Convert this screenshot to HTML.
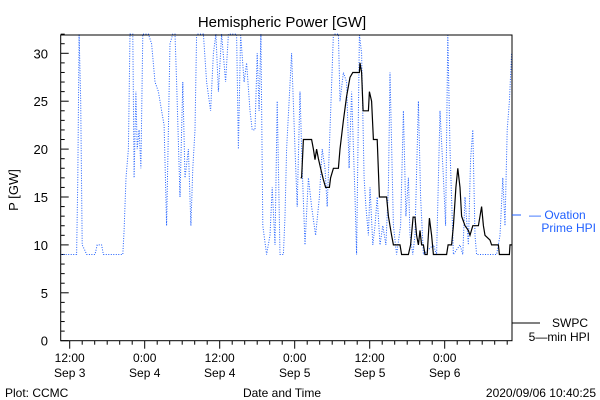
<!DOCTYPE html>
<html><head><meta charset="utf-8"><style>
body{margin:0;background:#fff;}
svg{display:block;font-family:"Liberation Sans",sans-serif;}
</style></head><body>
<svg id="chart" width="600" height="400" viewBox="0 0 600 400">
<text x="282" y="27" text-anchor="middle" font-size="15">Hemispheric Power [GW]</text>
<text transform="translate(18,190) rotate(-90)" text-anchor="middle" font-size="13">P [GW]</text>
<g id="axes"></g>
<g id="series"></g>
<rect x="60.7" y="35" width="451.3" height="305.7" fill="none" stroke="#000" stroke-width="1"/>
<line x1="512" y1="215" x2="521" y2="215" stroke="#2060ff" stroke-width="1"/>
<text x="529" y="219" font-size="12" fill="#2060ff">— Ovation</text>
<text x="596" y="232" text-anchor="end" font-size="12" fill="#2060ff">Prime HPI</text>
<line x1="512" y1="323" x2="540" y2="323" stroke="#000" stroke-width="1"/>
<text x="588" y="327" text-anchor="end" font-size="12">SWPC</text>
<text x="590" y="341" text-anchor="end" font-size="12">5—min HPI</text>
<text x="5" y="397" font-size="12">Plot: CCMC</text>
<text x="282" y="397" text-anchor="middle" font-size="12">Date and Time</text>
<text x="596" y="397" text-anchor="end" font-size="12">2020/09/06 10:40:25</text>
</svg>
<script>
const ovationHours=[10.56,13.1,13.3,13.5,13.76,14.0,14.45,14.7,16.05,16.4,17.1,17.4,20.5,20.7,21.0,21.4,21.65,22.1,22.3,22.6,22.8,23.1,23.4,23.7,24.6,25.1,25.65,26.2,26.7,27.1,27.5,28.05,28.5,28.85,29.1,29.65,30.1,30.45,31.0,31.4,31.7,32.05,32.3,33.4,33.9,34.55,35.0,35.4,35.8,36.3,36.95,37.4,38.7,39.0,39.35,39.9,40.3,40.85,41.2,41.65,42.0,42.3,42.6,42.9,43.5,44.05,44.4,44.85,45.2,45.65,46.2,46.45,46.7,47.5,48.05,48.4,48.85,49.2,49.65,50.2,50.7,51.35,51.95,52.4,52.85,53.2,53.65,54.2,55.0,55.25,55.8,56.3,56.7,57.1,57.65,57.9,58.35,58.7,59.1,59.4,59.8,60.05,60.5,60.85,61.2,61.65,62.1,62.6,63.0,63.25,63.8,64.3,64.95,65.4,65.8,66.2,66.45,66.9,67.25,67.8,68.15,68.6,70.2,70.7,71.25,71.8,72.15,72.5,72.85,73.4,74.45,74.9,75.25,75.8,76.15,76.5,76.85,77.1,80.3,80.85,81.3,81.65,82.0,82.35,82.7];
const ovationValues=[9,9,17,32,25,10,9.4,9,9,10,10,9,9,11.5,17,20,32,32,17,26,20,22,18,32,32,31,27,26,24,22.5,12,31,32,32,27,15,27,17,20,12,18,22,32,32,27,24,30,32,26,32,27,32,32,20,32,27,29,24,22,22,30,24,32,12,9,11,16,10,25,9,9,13,20,30,20,14,26,18,10,17,14,11,15,20,18,14,22,32,32,25,28,27,18,26,15,9,32,30,17,14,11,16,10,12,15,10,12,10,16,28,12,9,12,24,13,17,11,9,11,25,15,9,10,9,24,17,12,32,20,9,10,9,15,10,19,22,11,9,9,11,17,12,22,25,30];
const swpcHours=[48.95,49.1,49.4,50.7,51.0,51.25,51.5,51.8,52.15,52.6,52.95,53.55,53.75,54.2,55.0,55.25,55.8,56.3,56.85,57.3,58.35,58.45,58.7,58.95,59.35,59.8,59.95,60.3,60.6,61.2,61.55,62.1,62.7,63.0,63.5,63.8,64.85,65.1,66.2,66.55,66.95,67.25,67.5,67.8,68.05,68.3,68.6,68.85,69.2,69.55,69.9,70.2,72.3,72.55,73.1,73.4,73.8,74.1,74.45,74.7,75.25,75.8,76.05,76.5,77.4,77.65,77.9,78.2,78.45,79.25,79.5,80.6,80.75,82.35,82.45,82.8];
const swpcValues=[17,17,21,21,20,18.9,20,19,18,16.8,16,16,17,18,18,20,23,25.5,27.5,28,28,29,28,24,24,24,26,25,21,21,15,15,15,13,11,10,10,9,9,10,12.9,12.9,11,10,11.5,10,10,9,9,12.8,11,9,9,10,10,12,16,18,16,13,12,11.5,11,12,12,13,14,12,11,10.5,10,10,9,9,10,10];
const yTickLabels=["0","5","10","15","20","25","30"];
const xTickHours=[12,24,36,48,60,72];
const xTickTime=["12:00","0:00","12:00","0:00","12:00","0:00"];
const xTickDate=["Sep 3","Sep 4","Sep 4","Sep 5","Sep 5","Sep 6"];

const X0=60.7,X1=512,Y0=340.7,Y1=35,H0=10.56,PXH=6.25,PXV=9.58,VMAX=32;
function xs(h){return X0+(h-H0)*PXH;}
function ys(v){return Y0-Math.min(v,VMAX)*PXV;}
const NS="http://www.w3.org/2000/svg";
function mk(tag,parent){const e=document.createElementNS(NS,tag);parent.appendChild(e);return e;}
const axes=document.getElementById('axes');
const series=document.getElementById('series');
for(let v=0;v<=VMAX;v++){
  const l=mk('line',axes);
  
  
  const len=v%5===0?8:4;
  l.setAttribute('x1',X0);l.setAttribute('x2',X0+len);
  l.setAttribute('y1',ys(v));l.setAttribute('y2',ys(v));
  l.setAttribute('stroke','#000');
}
yTickLabels.forEach(s=>{
  const t=mk('text',axes);
  
  
  t.setAttribute('x',48);t.setAttribute('y',ys(+s)+5);
  t.setAttribute('text-anchor','end');t.setAttribute('font-size','13');
  t.textContent=s;
});
for(let h=12;h<=82;h+=2){
  const l=mk('line',axes);
  
  
  const len=h%12===0?8:4;
  l.setAttribute('x1',xs(h));l.setAttribute('x2',xs(h));
  l.setAttribute('y1',Y0);l.setAttribute('y2',Y0+len);
  l.setAttribute('stroke','#000');
}
xTickHours.forEach((h,i)=>{
  const t=mk('text',axes);
  
  
  t.setAttribute('x',xs(h));t.setAttribute('y',362);
  t.setAttribute('text-anchor','middle');t.setAttribute('font-size','12');
  t.textContent=xTickTime[i];
  const d=mk('text',axes);
  
  
  d.setAttribute('x',xs(h));d.setAttribute('y',377);
  d.setAttribute('text-anchor','middle');d.setAttribute('font-size','12');
  d.textContent=xTickDate[i];
});
const p1=mk('path',series);


p1.setAttribute('d',ovationHours.map((h,i)=>(i?'L':'M')+xs(h).toFixed(1)+' '+ys(ovationValues[i]).toFixed(1)).join(''));
p1.setAttribute('fill','none');p1.setAttribute('stroke','#2060ff');
p1.setAttribute('stroke-width','1');p1.setAttribute('stroke-dasharray','1 1.5');
const p2=mk('path',series);


p2.setAttribute('d',swpcHours.map((h,i)=>(i?'L':'M')+xs(h).toFixed(1)+' '+ys(swpcValues[i]).toFixed(1)).join(''));
p2.setAttribute('fill','none');p2.setAttribute('stroke','#000');p2.setAttribute('stroke-width','1.2');
</script>
</body></html>
